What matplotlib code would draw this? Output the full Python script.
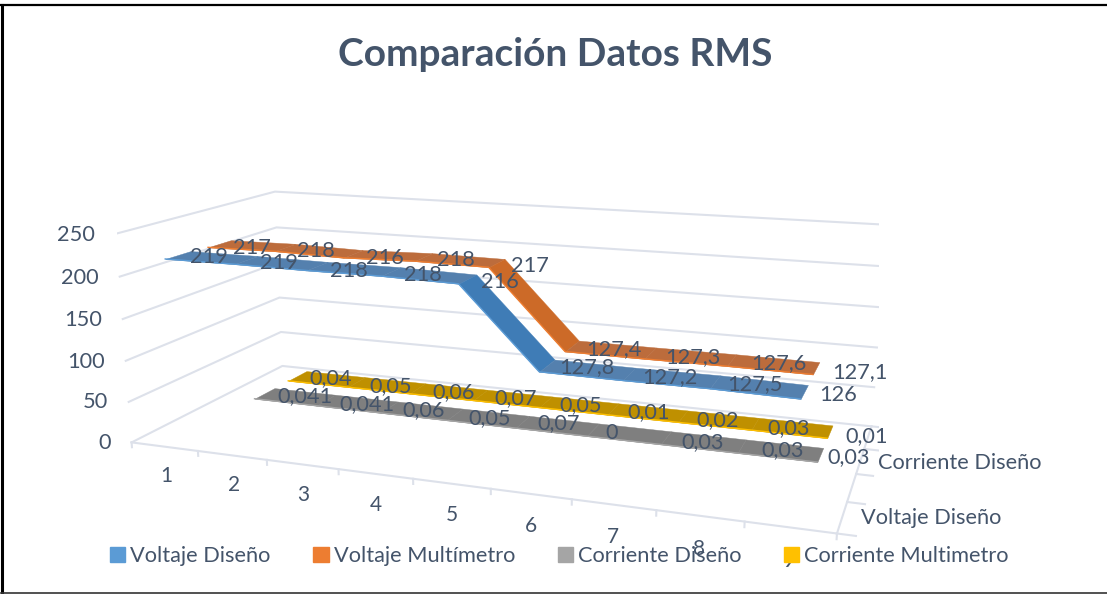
import numpy as np
import matplotlib
matplotlib.use('Agg')
import matplotlib.pyplot as plt
from matplotlib.lines import Line2D
from matplotlib.patches import Patch
from mpl_toolkits.mplot3d import proj3d
from mpl_toolkits.mplot3d.art3d import Poly3DCollection

W, H = 1107, 594
plt.rcParams['font.family'] = ['Lato', 'DejaVu Sans']

categories = [1, 2, 3, 4, 5, 6, 7, 8, 9]
voltaje_diseno = [219, 219, 218, 218, 216, 127.8, 127.2, 127.5, 126]
voltaje_multimetro = [217, 218, 216, 218, 217, 127.4, 127.3, 127.6, 127.1]
corriente_diseno = [0.041, 0.041, 0.06, 0.05, 0.07, 0, 0.03, 0.03, 0.03]
corriente_multimetro = [0.04, 0.05, 0.06, 0.07, 0.05, 0.01, 0.02, 0.03, 0.01]
voltaje_diseno_txt = ['219', '219', '218', '218', '216', '127,8', '127,2', '127,5', '126']
voltaje_multimetro_txt = ['217', '218', '216', '218', '217', '127,4', '127,3', '127,6', '127,1']
corriente_diseno_txt = ['0,041', '0,041', '0,06', '0,05', '0,07', '0', '0,03', '0,03', '0,03']
corriente_multimetro_txt = ['0,04', '0,05', '0,06', '0,07', '0,05', '0,01', '0,02', '0,03', '0,01']
series_names = ['Voltaje Diseño', 'Voltaje Multímetro', 'Corriente Diseño', 'Corriente Multimetro']
y_ticks = [0, 50, 100, 150, 200, 250]

TEXT = '#44546A'
GRID = '#DDE1EA'

# axes box in pixels, and the camera, fitted to the picture
left, right, top, bottom = 117.21, 878.87, -36.95, 724.71

fig = plt.figure(figsize=(W / 100, H / 100), dpi=100)
ax = fig.add_axes([left / W, 1 - bottom / H, (right - left) / W, (bottom - top) / H],
                  projection='3d', computed_zorder=False)
ax.set_axis_off()
ax.set_xlim(0.5, 9.5)
ax.set_ylim(0, 4)
ax.set_zlim(0, 250)
ax.view_init(14.062, -70.096)
ax.set_proj_type('persp', focal_length=float(np.exp(-1.12)))
ax.set_box_aspect((float(np.exp(1.1842)), float(np.exp(0.3674)), 1))
M = ax.get_proj()


def label(x, y, z, s, dx=0, dy=0, size=15.7, ha='center'):
    # real text placed at the projected 3D point, nudged in pixels
    u, v, _ = proj3d.proj_transform(x, y, z, M)
    ax.annotate(s, (u, v), xytext=(dx, dy), textcoords='offset pixels', color=TEXT, fontsize=size,
                ha=ha, va='center', zorder=10, annotation_clip=False)


series = [
    (voltaje_diseno, voltaje_diseno_txt, 0.5, '#5480AE', '#3F7CB6', '#5B9BD5',
     [9, 8, 5, 3, 1, 6, 4, 0, -10], [4, 4, 2, 4, 4, 8, 7, 8, 8]),
    (voltaje_multimetro, voltaje_multimetro_txt, 1.5, '#BC6C3C', '#CC6A28', '#ED7D31',
     [10, 7, 6, 4, 3, 9, 7, 9, 2], [1, 2, 2, 3, 4, 6, 5, 6, 6]),
    (corriente_diseno, corriente_diseno_txt, 2.5, '#7F7F7F', '#7F7F7F', '#A5A5A5',
     [19, 18, 10, 8, 7, -12, 4, 5, -10], [6, 5, 6, 6, 8, 7, 6, 7, 9]),
    (corriente_multimetro, corriente_multimetro_txt, 3.5, '#BF9000', '#BF9000', '#FFC000',
     [12, 12, 12, 9, 7, 6, 3, 0, 0], [5, 4, 5, 5, 6, 6, 6, 6, 6]),
]

# walls and floor
for t in y_ticks:
    ax.plot([0.5, 0.5, 9.5], [0, 4, 4], [t, t, t], color=GRID, lw=1.5, zorder=1)
ax.plot([0.5, 9.5], [0, 0], [0, 0], color=GRID, lw=1.5, zorder=1)
ax.plot([9.5, 9.5], [0, 4], [0, 0], color=GRID, lw=1.5, zorder=1)
for k in np.arange(0.5, 10):
    ax.plot([k, k], [0, 0], [0, -6], color=GRID, lw=1.5, zorder=1)
for d in range(5):
    ax.plot([9.5, 9.7], [d, d], [0, 0], color=GRID, lw=1.5, zorder=1)

front, back = 0.22, 0.36
for vals, txt, d, flat, drop, edge, ldx, ldy in series:
    for i in range(len(vals) - 1):
        verts = [[(categories[i], d - front, vals[i]), (categories[i + 1], d - front, vals[i + 1]),
                  (categories[i + 1], d + back, vals[i + 1]), (categories[i], d + back, vals[i])]]
        col = drop if abs(vals[i + 1] - vals[i]) > 20 else flat
        ax.add_collection3d(Poly3DCollection(verts, facecolors=col, edgecolors=col, linewidths=0.3,
                                             zorder=3 + (3 - d) * 0.5))
    ax.plot(categories, [d - front] * len(vals), vals, color=edge, lw=1.0, zorder=3.6 + (3 - d) * 0.5)

for vals, txt, d, flat, drop, edge, ldx, ldy in series:
    for c, v, s, dx, dy in zip(categories, vals, txt, ldx, ldy):
        label(c + 0.5, d - 0.2, v, s, dx, dy)

for c in categories:
    label(c, 0, -36, str(c), size=15)
for t in y_ticks:
    label(0.18, 0, t, str(t), dy=-3, ha='right')
label(9.8, 0.5, 0, 'Voltaje Diseño', dx=-9, dy=3, ha='left')
label(9.8, 2.5, 0, 'Corriente Diseño', dx=-7, dy=1, ha='left')

fig.text(555 / W, 1 - 54 / H, 'Comparación Datos RMS', color=TEXT, fontsize=28, fontweight='bold',
         ha='center', va='center')

handles = [Patch(color='#5B9BD5'), Patch(color='#ED7D31'), Patch(color='#A5A5A5'), Patch(color='#FFC000')]
fig.legend(handles, series_names, loc='center', bbox_to_anchor=(559.5 / W, 1 - 556.5 / H), ncols=4, frameon=False,
           fontsize=15.7, labelcolor=TEXT, handlelength=0.69, handleheight=0.69, handletextpad=0.23, columnspacing=1.97)

# frame is open on the right
fig.add_artist(Line2D([2 / W, 2 / W], [0.5 / H, 1 - 5 / H], color='black', lw=2.2))
fig.add_artist(Line2D([1 / W, 1], [1 - 5 / H, 1 - 5 / H], color='black', lw=1.6))
fig.add_artist(Line2D([1 / W, 1], [1.2 / H, 1.2 / H], color='#333333', lw=1.2))

fig.savefig('out.png', dpi=100)
